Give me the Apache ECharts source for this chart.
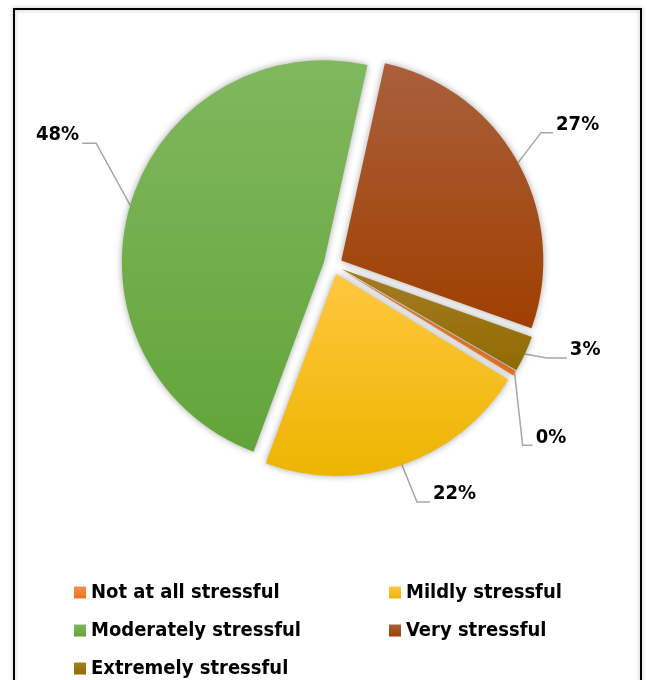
<!DOCTYPE html>
<html>
<head>
<meta charset="UTF-8">
<title>Stress pie</title>
<style>
  html, body { margin: 0; padding: 0; background: #fff; }
  #main { width: 647px; height: 680px; }
</style>
</head>
<body>
<div id="main"></div>
<script src="https://cdn.jsdelivr.net/npm/echarts@6/dist/echarts.min.js"></script>
<script>
// data
var categories = ['Not at all stressful', 'Mildly stressful', 'Moderately stressful', 'Very stressful', 'Extremely stressful'];
var values = [0.4, 21.9, 47.8, 27.0, 2.9];

// slice colours, light at top, dark at bottom
var topColors = ['#F58E4C', '#FFC73F', '#80B85E', '#A9603C', '#A37C25'];
var bottomColors = ['#EA7522', '#EDB500', '#62A43A', '#A03F00', '#916B00'];

// label leader legs: [dx, dy of first leg, dx of horizontal leg]
var legs = [
  [8, 72, 10],
  [15, 37, 13],
  [-34, -62, -14],
  [23, -30, 12],
  [22, 4, 20]
];

var FONT = '"Liberation Sans Narrow", "Arial Narrow", "DejaVu Sans Condensed", sans-serif';

var myChart = echarts.init(document.getElementById('main'));

var pieData = categories.map(function (name, i) {
  return {
    name: name,
    value: values[i],
    selected: true,
    itemStyle: {
      color: {
        type: 'linear', x: 0, y: 0, x2: 0, y2: 1,
        colorStops: [
          { offset: 0, color: topColors[i] },
          { offset: 1, color: bottomColors[i] }
        ]
      }
    }
  };
});

var legendCommon = {
  orient: 'vertical',
  icon: 'rect',
  itemWidth: 12,
  itemHeight: 12,
  itemGap: 17,
  height: 120,
  selectedMode: false,
  textStyle: {
    fontFamily: FONT,
    fontSize: 20,
    fontWeight: 'bold',
    color: '#000',
    lineHeight: 21
  }
};

myChart.setOption({
  animation: false,
  graphic: [{
    type: 'rect',
    shape: { x: 14, y: 9, width: 627, height: 690 },
    style: { fill: 'none', stroke: '#000', lineWidth: 2, shadowBlur: 4, shadowColor: 'rgba(0,0,0,0.3)' },
    silent: true
  }],
  legend: [
    echarts.util.extend({ left: 69, top: 577, data: [categories[0], categories[2], categories[4]] }, legendCommon),
    echarts.util.extend({ left: 384, top: 577, data: [categories[1], categories[3]] }, legendCommon)
  ],
  series: [{
    type: 'pie',
    center: [333, 265],
    radius: 202,
    startAngle: -30.1,
    clockwise: true,
    selectedMode: 'multiple',
    selectedOffset: 9.5,
    avoidLabelOverlap: false,
    itemStyle: {
      shadowBlur: 7,
      shadowColor: 'rgba(0,0,0,0.35)'
    },
    select: { itemStyle: { shadowBlur: 7, shadowColor: 'rgba(0,0,0,0.35)' } },
    emphasis: { disabled: true },
    label: {
      show: true,
      position: 'outside',
      formatter: function (p) { return Math.round(p.percent) + '%'; },
      fontFamily: FONT,
      fontSize: 20,
      fontWeight: 'bold',
      color: '#000'
    },
    labelLine: {
      show: true,
      length: 20,
      length2: 12,
      lineStyle: { color: '#A6A6A6', width: 1.5 }
    },
    labelLayout: function (p) {
      var pts = p.labelLinePoints;
      if (!pts) return {};
      var leg = legs[p.dataIndex];
      var a = pts[0];
      var b = [a[0] + leg[0], a[1] + leg[1]];
      var c = [b[0] + leg[2], b[1]];
      var right = leg[2] > 0;
      var r = p.labelRect;
      var tx = right ? c[0] + 3 : c[0] - 3 - r.width;
      var ty = c[1] - 8;
      return {
        dx: tx - r.x,
        dy: ty - (r.y + r.height / 2),
        labelLinePoints: [a, b, c]
      };
    },
    data: pieData
  }]
});
</script>
</body>
</html>
